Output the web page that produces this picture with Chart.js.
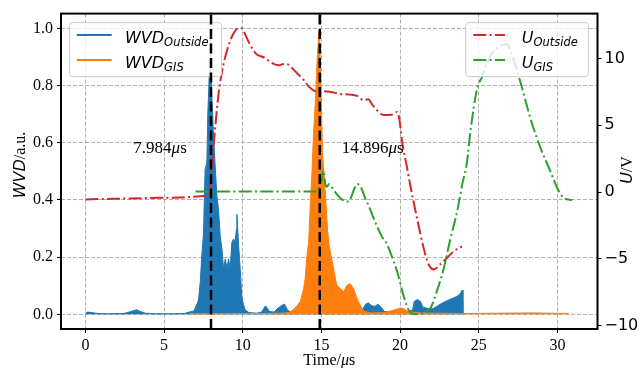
<!DOCTYPE html>
<html><head><meta charset="utf-8">
<script src="https://cdn.jsdelivr.net/npm/chart.js@4"></script>
<style>html,body{margin:0;padding:0;background:#fff;}canvas{display:block;}</style>
</head><body>
<canvas id="c" width="639" height="368"></canvas>
<script>
// ---------- data ----------
const tOutside   = [0.0,0.15,0.4,0.8,1.5,2.4,2.7,3.0,3.25,3.5,3.8,4.5,5.5,6.3,6.6,6.9,7.05,7.19,7.30,7.40,7.51,7.58,7.61,7.72,7.78,7.83,7.88,7.92,7.94,7.96,8.04,8.14,8.25,8.36,8.46,8.57,8.68,8.78,8.89,9.0,9.1,9.2,9.31,9.42,9.52,9.6,9.63,9.68,9.73,9.84,9.95,10.05,10.16,10.4,10.9,11.2,11.45,11.7,12.0,12.2,12.45,12.65,12.85,13.1,14.0,15.0,16.0,17.0,17.6,17.8,18.0,18.2,18.4,18.6,18.8,19.0,19.6,20.4,20.8,20.9,21.1,21.3,21.45,21.8,22.1,22.4,22.7,23.0,23.3,23.6,23.8,23.95,24.0];
const wvdOutside = [0.004,0.008,0.006,0.003,0.002,0.003,0.006,0.012,0.016,0.010,0.004,0.002,0.002,0.003,0.008,0.012,0.03,0.05,0.113,0.206,0.287,0.45,0.506,0.53,0.70,0.772,0.85,0.93,1.0,0.86,0.76,0.633,0.518,0.414,0.368,0.275,0.229,0.16,0.194,0.16,0.194,0.16,0.252,0.264,0.252,0.30,0.35,0.30,0.25,0.16,0.055,0.035,0.015,0.006,0.004,0.008,0.03,0.01,0.008,0.02,0.03,0.036,0.015,0.006,0.005,0.006,0.006,0.008,0.015,0.035,0.04,0.03,0.028,0.035,0.025,0.01,0.008,0.008,0.015,0.045,0.052,0.045,0.025,0.02,0.02,0.03,0.04,0.048,0.055,0.062,0.07,0.085,0.0];

const tGIS   = [6.6,8.0,10.0,11.5,12.5,12.9,13.2,13.45,13.66,13.87,13.97,14.08,14.19,14.29,14.4,14.5,14.61,14.72,14.82,14.88,14.97,15.08,15.18,15.29,15.4,15.5,15.61,15.78,15.89,15.99,16.2,16.42,16.63,16.84,17.05,17.26,17.47,17.7,18.2,19.0,19.4,19.8,20.0,20.2,20.5,21.0,22.0,24.0,26.0,28.5,30.72];
const wvdGIS = [0.002,0.002,0.003,0.003,0.004,0.006,0.015,0.03,0.044,0.09,0.125,0.206,0.252,0.379,0.495,0.633,0.737,0.876,0.969,1.0,0.807,0.553,0.483,0.39,0.287,0.24,0.206,0.16,0.125,0.102,0.09,0.08,0.102,0.107,0.09,0.056,0.032,0.01,0.005,0.006,0.012,0.018,0.022,0.02,0.01,0.006,0.004,0.003,0.004,0.005,0.003];

const tUOutside = [0,2,4,6,7.3,7.7,7.85,8.04,8.25,8.46,8.68,9.0,9.42,9.8,10.0,10.2,10.5,10.69,10.9,11.32,11.96,12.3,12.6,12.9,13.13,13.5,13.87,14.2,14.5,14.82,15.2,15.57,16.2,16.84,17.26,17.68,17.99,18.2,18.43,18.96,19.49,19.81,19.95,20.13,20.45,20.66,21.08,21.5,21.82,22.14,22.56,23.09,23.41,23.94];
const uOutside  = [-0.55,-0.5,-0.45,-0.4,-0.32,-0.28,-0.1,1.9,4.8,7.3,9.0,10.6,11.9,12.3,12.2,11.7,10.96,10.6,10.3,10.1,9.6,9.5,9.6,9.55,9.3,8.85,8.4,7.9,7.62,7.45,7.55,7.5,7.35,7.3,7.2,6.88,6.95,6.6,6.26,5.77,5.8,6.0,5.5,3.78,1.8,0.45,-1.96,-4.19,-5.43,-5.8,-5.4,-4.81,-4.44,-4.07];

const tUGIS = [7.0,9.0,11.0,13.0,14.7,14.85,15.0,15.14,15.25,15.35,15.5,15.7,16.0,16.3,16.6,16.8,17.05,17.26,17.47,17.78,18.0,18.3,18.83,19.17,19.5,19.81,20.23,20.55,20.97,21.5,21.93,22.35,22.78,23.2,23.63,23.94,24.26,24.47,24.9,25.2,25.74,26.38,26.8,27.1,27.65,28.29,28.93,29.56,29.99,30.4,30.94];
const uGIS  = [0.05,0.05,0.05,0.05,0.05,0.3,0.8,1.6,0.6,0.4,0.6,0.3,-0.2,-0.55,-0.72,-0.6,0.1,0.6,0.45,-0.43,-1.0,-1.9,-3.3,-3.9,-4.9,-5.93,-7.8,-8.85,-9.15,-9.05,-8.7,-7.4,-5.7,-3.5,-1.45,0.5,2.3,4.52,7.74,8.6,10.22,10.96,11.08,10.3,8.24,5.5,3.3,1.55,0.3,-0.43,-0.6];

const markerTimes  = [7.984, 14.896];
const markerLabels = ['7.984', '14.896'];
const markerLabelPos = [[3.05, 0.579], [16.3, 0.579]];

const xTicks = [0,5,10,15,20,25,30];
const xTickLabels = ['0','5','10','15','20','25','30'];
const wvdTicks = [0,0.2,0.4,0.6,0.8,1.0];
const wvdTickLabels = ['0.0','0.2','0.4','0.6','0.8','1.0'];
const uTicks = [-10,-5,0,5,10];
const uTickLabels = ['\u221210','\u22125','0','5','10'];

const seriesNames = [['WVD','Outside'],['WVD','GIS'],['U','Outside'],['U','GIS']];

// ---------- helpers ----------
const X_MIN = -1.55, X_MAX = 32.55;
const Y_MIN = -0.0513, Y_MAX = 1.052;
const U_MIN = -10.26, U_MAX = 13.37;
const SERIF = '"Liberation Serif","Times New Roman",serif';
const SANS = '"DejaVu Sans",sans-serif';
const zip = (xs, ys) => xs.map((x, i) => ({x: x, y: ys[i]}));
const DASHDOT = [13, 3.3, 2, 3.3];

function richWidth(ctx, parts) {
  let w = 0;
  for (const p of parts) { ctx.font = p.font; w += ctx.measureText(p.text).width; }
  return w;
}
function drawRich(ctx, x, y, parts) {
  let cx = x;
  for (const p of parts) {
    ctx.font = p.font;
    ctx.fillText(p.text, cx, y + (p.dy || 0));
    cx += ctx.measureText(p.text).width;
  }
}
function roundRect(ctx, x, y, w, h, r) {
  ctx.beginPath();
  ctx.moveTo(x + r, y);
  ctx.arcTo(x + w, y, x + w, y + h, r);
  ctx.arcTo(x + w, y + h, x, y + h, r);
  ctx.arcTo(x, y + h, x, y, r);
  ctx.arcTo(x, y, x + w, y, r);
  ctx.closePath();
}

function drawLegend(chart, bx, by, bw, bh, idxs, lineX0, lineX1, textX) {
  const ctx = chart.ctx;
  ctx.save();
  roundRect(ctx, bx, by, bw, bh, 3);
  ctx.fillStyle = 'rgba(255,255,255,0.8)';
  ctx.fill();
  ctx.strokeStyle = '#cccccc';
  ctx.lineWidth = 1;
  ctx.stroke();
  idxs.forEach((di, k) => {
    const ds = chart.data.datasets[di];
    const ly = by + 12.3 + k * 25;
    ctx.beginPath();
    ctx.setLineDash(ds.borderDash || []);
    ctx.strokeStyle = ds.borderColor;
    ctx.lineWidth = 2;
    ctx.moveTo(lineX0, ly);
    ctx.lineTo(lineX1, ly);
    ctx.stroke();
    ctx.setLineDash([]);
    ctx.fillStyle = '#000';
    ctx.textBaseline = 'alphabetic';
    ctx.textAlign = 'left';
    const nm = seriesNames[di];
    drawRich(ctx, textX, ly + 7.7, [
      {text: nm[0], font: 'italic 16px ' + SANS},
      {text: nm[1], font: 'italic 11.5px ' + SANS, dy: 3.5}
    ]);
  });
  ctx.restore();
}

const decorPlugin = {
  id: 'decor',
  afterDatasetDraw(chart, args) {
    if (args.index !== 3) return;
    const ca = chart.chartArea;
    drawLegend(chart, ca.left + 8.5, ca.top + 9, 152, 54, [0, 1], ca.left + 15.7, ca.left + 50.7, ca.left + 64);
    drawLegend(chart, ca.right - 131.8, ca.top + 9, 122.6, 54, [2, 3], ca.right - 124.2, ca.right - 92.5, ca.right - 75.8);
  },
  afterDraw(chart) {
    const ctx = chart.ctx;
    const ca = chart.chartArea;
    const sx = chart.scales.x, sy = chart.scales.y;
    ctx.save();
    // frame
    ctx.strokeStyle = '#000';
    ctx.lineWidth = 2;
    ctx.setLineDash([]);
    ctx.strokeRect(ca.left, ca.top, ca.right - ca.left, ca.bottom - ca.top);
    // marker labels
    ctx.fillStyle = '#000';
    ctx.textBaseline = 'middle';
    ctx.textAlign = 'left';
    markerLabels.forEach((lab, i) => {
      const px = sx.getPixelForValue(markerLabelPos[i][0]);
      const py = sy.getPixelForValue(markerLabelPos[i][1]);
      drawRich(ctx, px, py, [
        {text: lab, font: '17px ' + SERIF},
        {text: '\u03bc', font: 'italic 17px ' + SERIF},
        {text: 's', font: '17px ' + SERIF}
      ]);
    });
    // x title
    ctx.textBaseline = 'alphabetic';
    const xt = [
      {text: 'Time/', font: '16px ' + SERIF},
      {text: '\u03bc', font: 'italic 16px ' + SERIF},
      {text: 's', font: '16px ' + SERIF}
    ];
    const xw = richWidth(ctx, xt);
    drawRich(ctx, (ca.left + ca.right) / 2 - xw / 2, 365, xt);
    // left title
    const lt = [
      {text: 'WVD', font: 'italic 16px ' + SANS},
      {text: '/a.u.', font: '16px ' + SERIF}
    ];
    const lw = richWidth(ctx, lt);
    ctx.save();
    ctx.translate(25, 165);
    ctx.rotate(-Math.PI / 2);
    drawRich(ctx, -lw / 2, 0, lt);
    ctx.restore();
    // right title
    const rt = [
      {text: 'U', font: 'italic 16px ' + SANS},
      {text: '/V', font: '16px ' + SERIF}
    ];
    const rw = richWidth(ctx, rt);
    ctx.save();
    ctx.translate(632, 170);
    ctx.rotate(-Math.PI / 2);
    drawRich(ctx, -rw / 2, 0, rt);
    ctx.restore();
    ctx.restore();
  }
};

const gridCommon = {
  color: '#b0b0b0', lineWidth: 1, borderDash: [4, 2],
  tickColor: '#000', tickLength: 4, tickWidth: 1, tickBorderDash: []
};

new Chart(document.getElementById('c'), {
  type: 'line',
  data: {
    datasets: [
      {data: zip(tOutside, wvdOutside), yAxisID: 'y', borderColor: '#1f77b4', backgroundColor: '#1f77b4', borderWidth: 1, fill: 'origin', order: 5},
      {data: zip(tGIS, wvdGIS), yAxisID: 'y', borderColor: '#ff7f0e', backgroundColor: '#ff7f0e', borderWidth: 1, fill: 'origin', order: 4},
      {data: zip(tUOutside, uOutside), yAxisID: 'y2', borderColor: '#d62728', borderWidth: 2, borderDash: DASHDOT, fill: false, cubicInterpolationMode: 'monotone', order: 3},
      {data: zip(tUGIS, uGIS), yAxisID: 'y2', borderColor: '#2ca02c', borderWidth: 2, borderDash: DASHDOT, fill: false, cubicInterpolationMode: 'monotone', order: 2},
      {data: [{x: markerTimes[0], y: Y_MIN}, {x: markerTimes[0], y: Y_MAX}], yAxisID: 'y', borderColor: '#000', borderWidth: 2.5, borderDash: [10, 4.5], fill: false, order: 1},
      {data: [{x: markerTimes[1], y: Y_MIN}, {x: markerTimes[1], y: Y_MAX}], yAxisID: 'y', borderColor: '#000', borderWidth: 2.5, borderDash: [10, 4.5], fill: false, order: 0}
    ]
  },
  options: {
    responsive: false,
    animation: false,
    parsing: true,
    elements: {point: {radius: 0, hoverRadius: 0}, line: {tension: 0}},
    layout: {padding: {top: 11, left: 0, right: 0, bottom: 0}},
    plugins: {legend: {display: false}, tooltip: {enabled: false}},
    scales: {
      x: {
        type: 'linear', position: 'bottom', min: X_MIN, max: X_MAX,
        afterBuildTicks: s => { s.ticks = xTicks.map(v => ({value: v})); },
        afterFit: s => { s.height = 39; },
        ticks: {callback: (v, i) => xTickLabels[i], font: {family: SERIF, size: 16}, color: '#000', padding: 3, maxRotation: 0, autoSkip: false},
        grid: gridCommon,
        border: {display: false, dash: [4, 2]}
      },
      y: {
        type: 'linear', position: 'left', min: Y_MIN, max: Y_MAX,
        afterBuildTicks: s => { s.ticks = wvdTicks.map(v => ({value: v})); },
        afterFit: s => { s.width = 61; },
        ticks: {callback: (v, i) => wvdTickLabels[i], font: {family: SERIF, size: 16}, color: '#000', padding: 4, autoSkip: false},
        grid: gridCommon,
        border: {display: false, dash: [4, 2]}
      },
      y2: {
        type: 'linear', position: 'right', min: U_MIN, max: U_MAX,
        afterBuildTicks: s => { s.ticks = uTicks.map(v => ({value: v})); },
        afterFit: s => { s.width = 41.5; },
        ticks: {callback: (v, i) => uTickLabels[i], font: {family: SANS, size: 16}, color: '#000', padding: 3, autoSkip: false},
        grid: Object.assign({}, gridCommon, {drawOnChartArea: false}),
        border: {display: false}
      }
    }
  },
  plugins: [decorPlugin]
});
</script>
</body></html>
